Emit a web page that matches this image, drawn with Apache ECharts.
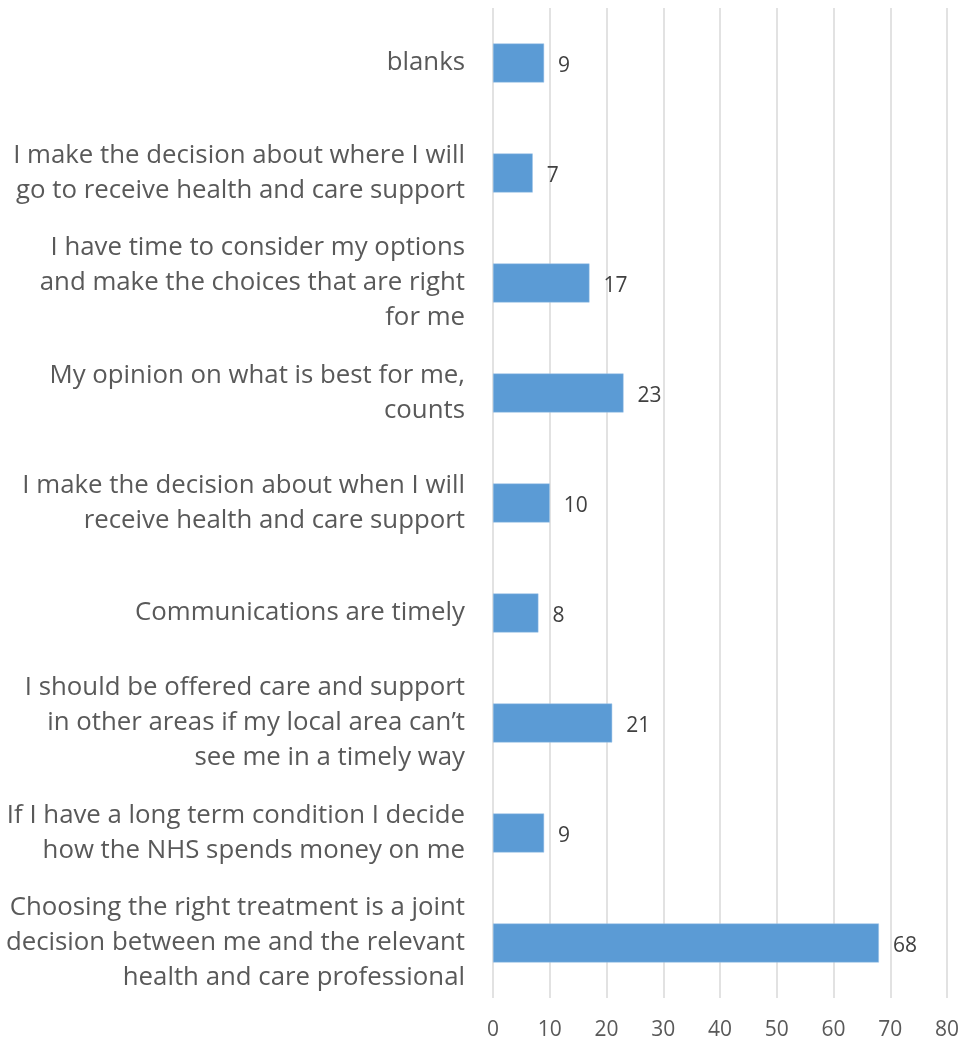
<!DOCTYPE html>
<html>
<head>
<meta charset="utf-8">
<script src="https://cdn.jsdelivr.net/npm/echarts@6/dist/echarts.min.js"></script>
<style>
html,body{margin:0;padding:0;background:#fff;}
#c{width:964px;height:1042px;}
</style>
</head>
<body>
<div id="c"></div>
<script>
const categories = [
  "blanks",
  "I make the decision about where I will\ngo to receive health and care support",
  "I have time to consider my options\nand make the choices that are right\nfor me",
  "My opinion on what is best for me,\ncounts",
  "I make the decision about when I will\nreceive health and care support",
  "Communications are timely",
  "I should be offered care and support\nin other areas if my local area can\u2019t\nsee me in a timely way",
  "If I have a long term condition I decide\nhow the NHS spends money on me",
  "Choosing the right treatment is a joint\ndecision between me and the relevant\nhealth and care professional"
];
const values = [9, 7, 17, 23, 10, 8, 21, 9, 68];
const xTicks = { min: 0, max: 80, interval: 10 };

const chart = echarts.init(document.getElementById('c'), null, {renderer: 'canvas'});
chart.setOption({
  animation: false,
  textStyle: { fontFamily: 'Open Sans' },
  grid: { left: 493, right: 17, top: 8, bottom: 44, containLabel: false },
  xAxis: {
    type: 'value',
    min: xTicks.min, max: xTicks.max, interval: xTicks.interval,
    axisLine: { show: false },
    axisTick: { show: false },
    splitLine: { show: true, lineStyle: { color: '#d9d9d9', width: 1.5 } },
    axisLabel: { color: '#595959', fontSize: 21, margin: 22, fontFamily: 'Open Sans' }
  },
  yAxis: {
    type: 'category',
    inverse: true,
    data: categories,
    axisLine: { show: false },
    axisTick: { show: false },
    axisLabel: {
      color: '#595959', fontSize: 25.8, lineHeight: 35, margin: 28,
      align: 'right', fontFamily: 'Open Sans', padding: [4, 0, 0, 0]
    }
  },
  series: [{
    type: 'bar',
    data: values,
    barWidth: 39,
    itemStyle: { color: '#5B9BD5', borderColor: '#9DC3E6', borderWidth: 0.5 },
    label: {
      show: true, position: 'right', distance: 14, offset: [0, 3],
      color: '#404040', fontSize: 21, fontFamily: 'Open Sans'
    }
  }]
});
</script>
</body>
</html>
